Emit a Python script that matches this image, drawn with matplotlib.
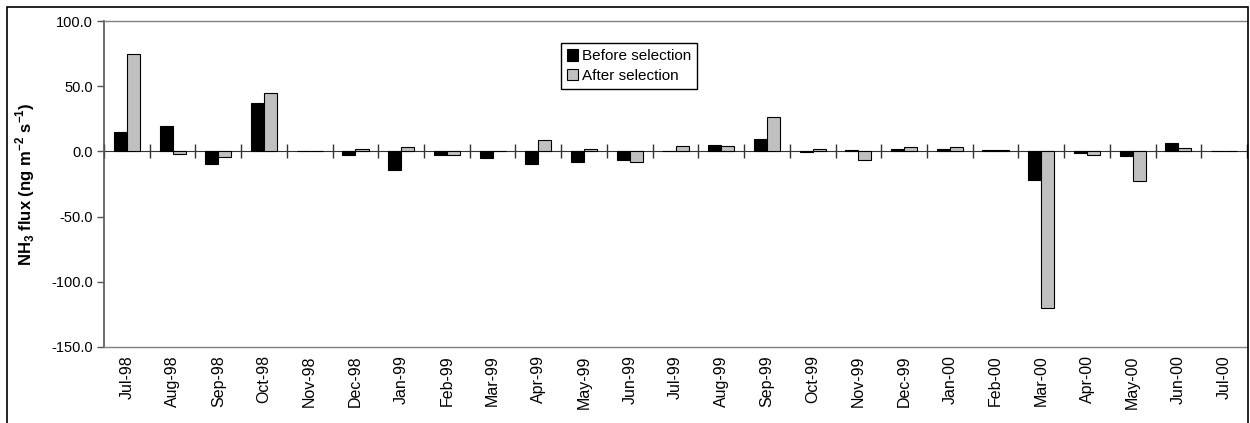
import matplotlib.pyplot as plt
import numpy as np
from matplotlib.patches import Rectangle

# monthly NH3 flux, before and after data selection
months = ["Jul-98", "Aug-98", "Sep-98", "Oct-98", "Nov-98", "Dec-98", "Jan-99",
          "Feb-99", "Mar-99", "Apr-99", "May-99", "Jun-99", "Jul-99", "Aug-99",
          "Sep-99", "Oct-99", "Nov-99", "Dec-99", "Jan-00", "Feb-00", "Mar-00",
          "Apr-00", "May-00", "Jun-00", "Jul-00"]
before = [15.1, 19.1, -10.0, 37.0, 0.0, -3.0, -14.5,
          -2.5, -5.4, -10.0, -8.4, -6.6, 0.0, 4.6,
          9.5, -0.8, 0.8, 1.5, 1.5, 0.8, -21.7,
          -1.5, -3.8, 6.4, 0.0]
after = [74.6, -1.8, -4.3, 44.7, 0.0, 1.5, 3.0,
         -2.5, 0.0, 8.7, 1.5, -8.4, 3.8, 3.8,
         26.3, 1.5, -6.6, 3.0, 3.0, 0.8, -120.0,
         -3.0, -23.0, 2.3, 0.0]
yticks = [100, 50, 0, -50, -100, -150]

plt.rcParams['font.family'] = ['Liberation Sans', 'DejaVu Sans']
plt.rcParams['mathtext.fontset'] = 'custom'
plt.rcParams['mathtext.rm'] = 'Liberation Sans'
plt.rcParams['mathtext.bf'] = 'Liberation Sans:bold'

fig = plt.figure(figsize=(12.5, 4.23), dpi=100)
# outer chart frame
fig.patches.append(Rectangle((7 / 1250, -0.05), 1241 / 1250, 1.05 - 7 / 423,
                             transform=fig.transFigure, fill=False,
                             edgecolor='black', linewidth=1.2))

ax = fig.add_axes([104 / 1250, 1 - 347 / 423, 1143 / 1250, 326 / 423])

x = np.arange(len(months))
w = 1 / 3.5
ax.bar(x - w / 2, before, w, color='black', edgecolor='black', linewidth=0.8,
       label='Before selection')
ax.bar(x + w / 2, after, w, color='#c0c0c0', edgecolor='black', linewidth=0.8,
       label='After selection')

ax.set_xlim(-0.5, len(months) - 0.5)
ax.set_ylim(-150, 100)
ax.set_yticks(yticks)
ax.set_yticklabels(["{:.1f}".format(v) for v in yticks], fontsize=10.5)
ax.set_xticks(x)
ax.set_xticklabels(months, rotation=90, fontsize=11.5)
ax.tick_params(axis='x', length=0, pad=6)
ax.tick_params(axis='y', length=5, width=1, color='#555555', pad=3)

for side in ['top', 'bottom']:
    ax.spines[side].set_color('#808080')
    ax.spines[side].set_linewidth(1)
ax.spines['left'].set_color('#555555')
ax.spines['left'].set_linewidth(1.2)
ax.spines['right'].set_visible(False)

# category axis crossing at zero, with ticks between months
zero_ax = ax.secondary_xaxis(150 / 250)
zero_ax.set_xticks(np.arange(len(months) + 1) - 0.5)
zero_ax.set_xticklabels([])
zero_ax.tick_params(direction='inout', length=10, width=1, color='#333333')
zero_ax.spines['bottom'].set_color('#333333')
zero_ax.spines['bottom'].set_linewidth(1.2)
zero_ax.spines['top'].set_color('#333333')

ax.set_ylabel(r'NH$_\mathbf{3}$ flux (ng m$^\mathbf{-2}$ s$^\mathbf{-1}$)',
              fontsize=12, fontweight='bold', labelpad=10)

leg = ax.legend(loc='upper left', bbox_to_anchor=(0.3996, 0.9316),
                borderaxespad=0, fancybox=False, edgecolor='black',
                fontsize=11, handlelength=0.75, handleheight=0.75,
                handletextpad=0.25, labelspacing=0.35, borderpad=0.4,
                framealpha=1)
leg.get_frame().set_linewidth(1)

plt.savefig('out.png', dpi=100)
